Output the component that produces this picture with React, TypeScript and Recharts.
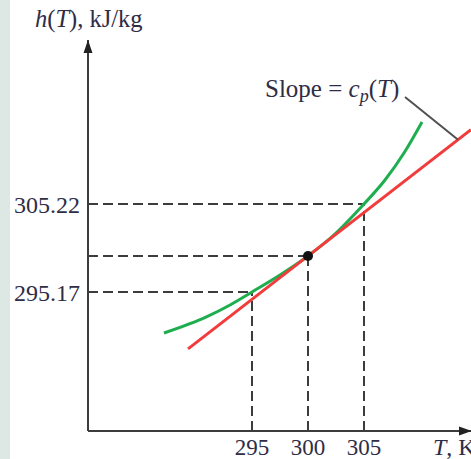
import React from 'react';
import { LineChart, Line, XAxis, YAxis, ReferenceLine, ReferenceDot, Label } from 'recharts';

// Enthalpy curve h(T) as drawn (illustrative)
const curveT = [287.14, 290.98, 293.04, 295, 297.5, 300, 302.5, 305, 306.875, 308.57, 310.18];
const curveH = [290.49, 292.36, 293.69, 295.17, 297.11, 299.28, 301.91, 305.22, 307.96, 311.04, 314.59];

// Tangent line at T = 300 K (slope = cp)
const tangentT = [289.29, 314.55];
const tangentH = [288.67, 313.7];

// Marked point
const pointT = 300;
const pointH = 299.28;

// Ticks
const xTicks = [295, 300, 305];
const yTicks = [295.17, 305.22];

// Leader line for "Slope = cp(T)"
const leaderT = [308.66, 313.4];
const leaderH = [317.44, 312.56];

// Axis ranges
const xMin = 280.357;
const xMax = 314.554;
const yMin = 279.295;
const yMax = 323.95;

const curveData = curveT.map((T, i) => ({ T, h: curveH[i] }));
const tangentData = tangentT.map((T, i) => ({ T, h: tangentH[i] }));

const FONT = '"Liberation Serif", "Times New Roman", serif';
const TEXT = '#2f2d45';
const AX = '#3c3c3c';
const DASH = '10 5';

export default function App() {
  return (
    <div style={{ position: 'absolute', left: 0, top: 0, width: 471, height: 459, background: '#fff', overflow: 'hidden' }}>
      <div style={{ position: 'absolute', left: 0, top: 0, width: 10, height: 459, background: '#dde8e5' }} />
      <LineChart
        width={471}
        height={459}
        margin={{ top: 40, right: 0, bottom: 0, left: 0 }}
        style={{ position: 'absolute', left: 0, top: 0 }}
      >
        <XAxis
          type="number"
          dataKey="T"
          domain={[xMin, xMax]}
          allowDataOverflow
          ticks={xTicks}
          interval={0}
          tickLine={false}
          height={28}
          axisLine={{ stroke: AX, strokeWidth: 2 }}
          tick={{ fill: TEXT, fontSize: 23, fontFamily: FONT }}
        >
          <Label
            content={() => (
              <text x={433} y={455} fontFamily={FONT} fontSize={24} fill={TEXT}>
                <tspan fontStyle="italic">T</tspan>, K
              </text>
            )}
          />
        </XAxis>
        <YAxis
          type="number"
          dataKey="h"
          domain={[yMin, yMax]}
          allowDataOverflow
          ticks={yTicks}
          interval={0}
          tickLine={false}
          width={88}
          axisLine={{ stroke: AX, strokeWidth: 2 }}
          tickFormatter={(v: number) => v.toFixed(2)}
          tick={{ fill: TEXT, fontSize: 24, fontFamily: FONT }}
        >
          <Label
            content={() => (
              <text x={35} y={27} fontFamily={FONT} fontSize={24.5} fill={TEXT}>
                <tspan fontStyle="italic">h</tspan>(<tspan fontStyle="italic">T</tspan>), kJ/kg
              </text>
            )}
          />
        </YAxis>

        {/* dashed guide lines */}
        <ReferenceLine ifOverflow="visible" stroke={AX} strokeWidth={2} strokeDasharray={DASH}
          segment={[{ x: xMin, y: yTicks[1] }, { x: xTicks[2], y: yTicks[1] }]} />
        <ReferenceLine ifOverflow="visible" stroke={AX} strokeWidth={2} strokeDasharray={DASH}
          segment={[{ x: xMin, y: pointH }, { x: pointT, y: pointH }]} />
        <ReferenceLine ifOverflow="visible" stroke={AX} strokeWidth={2} strokeDasharray={DASH}
          segment={[{ x: xMin, y: yTicks[0] }, { x: xTicks[0], y: yTicks[0] }]} />
        <ReferenceLine ifOverflow="visible" stroke={AX} strokeWidth={2} strokeDasharray={DASH}
          segment={[{ x: xTicks[0], y: yMin }, { x: xTicks[0], y: yTicks[0] }]} />
        <ReferenceLine ifOverflow="visible" stroke={AX} strokeWidth={2} strokeDasharray={DASH}
          segment={[{ x: pointT, y: yMin }, { x: pointT, y: pointH }]} />
        <ReferenceLine ifOverflow="visible" stroke={AX} strokeWidth={2} strokeDasharray={DASH}
          segment={[{ x: xTicks[2], y: yMin }, { x: xTicks[2], y: yTicks[1] }]} />

        <Line
          data={curveData}
          dataKey="h"
          type="monotone"
          stroke="#1fae4f"
          strokeWidth={3}
          dot={false}
          activeDot={false}
          isAnimationActive={false}
        />
        <Line
          data={tangentData}
          dataKey="h"
          type="linear"
          stroke="#f23b3b"
          strokeWidth={3}
          dot={false}
          activeDot={false}
          isAnimationActive={false}
        />

        {/* leader line + label */}
        <ReferenceLine ifOverflow="visible" stroke="#505050" strokeWidth={2}
          segment={[{ x: leaderT[0], y: leaderH[0] }, { x: leaderT[1], y: leaderH[1] }]}>
          <Label
            content={() => (
              <text x={265} y={97} fontFamily={FONT} fontSize={25} fill={TEXT}>
                Slope = <tspan fontStyle="italic">c</tspan>
                <tspan fontStyle="italic" fontSize={18} dy={5}>p</tspan>
                <tspan dy={-5}>(</tspan>
                <tspan fontStyle="italic">T</tspan>)
              </text>
            )}
          />
        </ReferenceLine>

        <ReferenceDot x={pointT} y={pointH} r={5} fill="#111" stroke="none" ifOverflow="visible" />

        {/* axis arrowheads */}
        <ReferenceDot
          x={xMin}
          y={yMax}
          ifOverflow="visible"
          shape={(p: any) => (
            <path d={`M${p.cx},${p.cy} L${p.cx - 4.5},${p.cy + 13} L${p.cx + 4.5},${p.cy + 13} Z`} fill="#222" />
          )}
        />
        <ReferenceDot
          x={xMax}
          y={yMin}
          ifOverflow="visible"
          shape={(p: any) => (
            <path d={`M${p.cx + 1},${p.cy} L${p.cx - 12},${p.cy - 4.5} L${p.cx - 12},${p.cy + 4.5} Z`} fill="#222" />
          )}
        />
      </LineChart>
    </div>
  );
}
